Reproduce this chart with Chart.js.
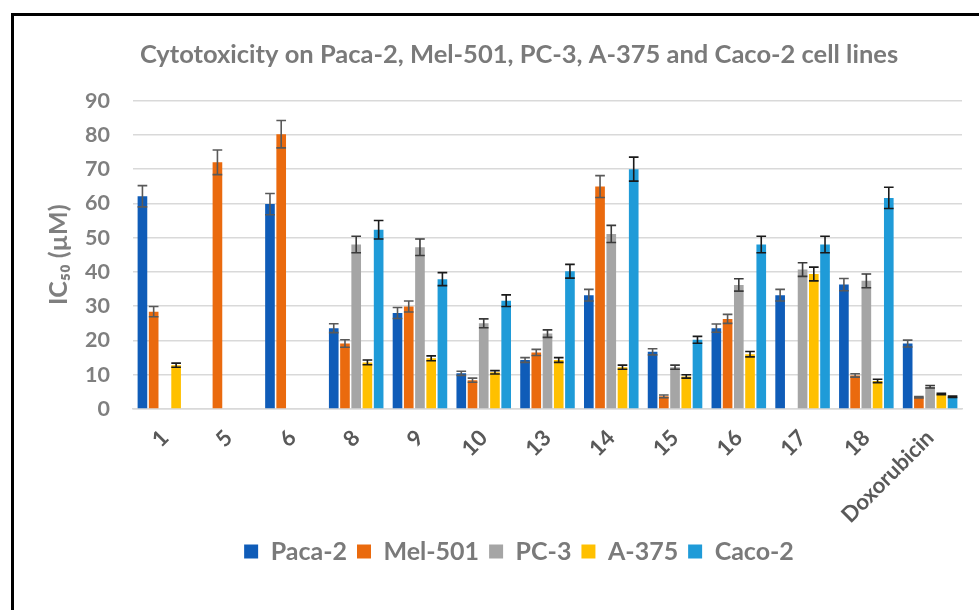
<!DOCTYPE html>
<html>
<head>
<meta charset="utf-8">
<script src="https://cdn.jsdelivr.net/npm/chart.js@4"></script>
<style>
  html, body { margin: 0; padding: 0; background: #fff; overflow: hidden; }
  #frame { position: absolute; left: 11px; top: 13px; width: 1100px; height: 700px; border: 3px solid #000; }
  #chart { position: absolute; left: 0; top: 0; }
</style>
</head>
<body>
<div id="frame"></div>
<canvas id="chart" width="979" height="610"></canvas>
<script>
const categories = ["1", "5", "6", "8", "9", "10", "13", "14", "15", "16", "17", "18", "Doxorubicin"];

const paca = [62.1, null, 59.8, 23.6, 28.0, 10.4, 14.3, 33.2, 16.7, 23.6, 33.2, 36.3, 19.1];
const pacaErr = [3.1, null, 3.1, 1.3, 1.6, 0.6, 0.7, 1.7, 0.9, 1.2, 1.7, 1.8, 1.0];
const mel = [28.4, 72.0, 80.2, 19.1, 29.9, 8.4, 16.5, 64.9, 3.7, 26.3, null, 9.8, 3.4];
const melErr = [1.5, 3.6, 4.0, 1.1, 1.6, 0.6, 0.9, 3.2, 0.4, 1.3, null, 0.5, 0.2];
const pc3 = [null, null, null, 48.0, 47.2, 25.0, 22.0, 51.1, 12.2, 36.2, 40.7, 37.4, 6.5];
const pc3Err = [null, null, null, 2.4, 2.4, 1.3, 1.1, 2.5, 0.6, 1.8, 2.0, 2.0, 0.35];
const a375 = [12.8, null, null, 13.6, 14.8, 10.7, 14.3, 12.2, 9.5, 16.0, 39.4, 8.2, 4.4];
const a375Err = [0.6, null, null, 0.7, 0.7, 0.5, 0.7, 0.6, 0.5, 0.8, 2.0, 0.5, 0.2];
const caco = [null, null, null, 52.3, 37.9, 31.6, 40.2, 70.0, 20.2, 48.0, 48.0, 61.6, 3.6];
const cacoErr = [null, null, null, 2.7, 1.9, 1.7, 2.0, 3.5, 1.0, 2.4, 2.4, 3.1, 0.2];

const seriesNames = ["Paca-2", "Mel-501", "PC-3", "A-375", "Caco-2"];
const ERRORS = [pacaErr, melErr, pc3Err, a375Err, cacoErr];
const ERROR_COLORS = ["#595959", "#595959", "#3a3a3a", "#1a1a1a", "#1a1a1a"];

const FONT = "Lato, 'Liberation Sans', sans-serif";

// draws the +/- error whiskers on top of each bar
const errorBars = {
  id: "errorBars",
  afterDatasetsDraw(chart) {
    const ctx = chart.ctx;
    const yScale = chart.scales.y;
    chart.data.datasets.forEach((ds, di) => {
      const meta = chart.getDatasetMeta(di);
      meta.data.forEach((bar, i) => {
        const v = ds.data[i];
        const e = ERRORS[di][i];
        if (v == null || e == null) return;
        const top = yScale.getPixelForValue(v + e);
        const bottom = yScale.getPixelForValue(v - e);
        const half = bar.width / 2;
        ctx.save();
        ctx.strokeStyle = ERROR_COLORS[di];
        ctx.lineWidth = 1.6;
        ctx.beginPath();
        ctx.moveTo(bar.x, top);
        ctx.lineTo(bar.x, bottom);
        ctx.moveTo(bar.x - half, top);
        ctx.lineTo(bar.x + half, top);
        ctx.moveTo(bar.x - half, bottom);
        ctx.lineTo(bar.x + half, bottom);
        ctx.stroke();
        ctx.restore();
      });
    });
  },
};

new Chart(document.getElementById("chart"), {
  type: "bar",
  data: {
    labels: categories,
    datasets: [
      { label: seriesNames[0], data: paca, backgroundColor: "#0f5cb8" },
      { label: seriesNames[1], data: mel, backgroundColor: "#ea6a0e" },
      { label: seriesNames[2], data: pc3, backgroundColor: "#a5a5a5" },
      { label: seriesNames[3], data: a375, backgroundColor: "#ffc000" },
      { label: seriesNames[4], data: caco, backgroundColor: "#1f9bd8" },
    ],
  },
  options: {
    responsive: false,
    animation: false,
    datasets: {
      bar: { categoryPercentage: 0.88, barPercentage: 0.86 },
    },
    layout: { padding: { left: 76, right: 17, top: 0, bottom: 36 } },
    plugins: {
      title: {
        display: true,
        text: "Cytotoxicity on Paca-2, Mel-501, PC-3, A-375 and Caco-2 cell lines",
        color: "#7a7a7a",
        font: { family: FONT, size: 25.5, weight: "bold", lineHeight: 1.2 },
        padding: { top: 39, bottom: 31 },
      },
      legend: {
        position: "bottom",
        labels: {
          color: "#7a7a7a",
          font: { family: FONT, size: 25, weight: "bold" },
          boxWidth: 14,
          boxHeight: 14,
          padding: 10,
        },
      },
      tooltip: { enabled: false },
    },
    scales: {
      x: {
        grid: { display: false },
        border: { color: "#d9d9d9", width: 1.5 },
        ticks: {
          color: "#595959",
          font: { family: FONT, size: 22, weight: "bold" },
          minRotation: 45,
          maxRotation: 45,
          autoSkip: false,
          padding: 8,
        },
        afterFit: (scale) => { scale.height = 120; },
      },
      y: {
        min: 0,
        max: 90,
        grid: { color: "#d9d9d9", lineWidth: 1.5, drawTicks: false },
        border: { display: false },
        ticks: {
          stepSize: 10,
          color: "#7f7f7f",
          font: { family: FONT, size: 21.5, weight: "bold" },
          padding: 23,
        },
        title: {
          display: true,
          text: "IC\u2085\u2080 (\u00b5M)",
          color: "#7f7f7f",
          font: { family: FONT, size: 25, weight: "bold", lineHeight: 1 },
          padding: { top: -30, bottom: 0 },
        },
        afterFit: (scale) => { scale.width = 57; },
      },
    },
  },
  plugins: [errorBars],
});
</script>
</body>
</html>
